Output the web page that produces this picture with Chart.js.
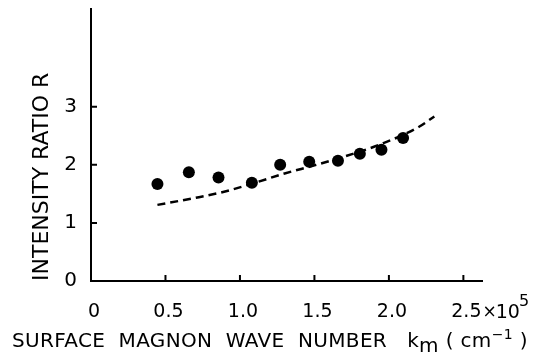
<!DOCTYPE html>
<html>
<head>
<meta charset="utf-8">
<script src="https://cdn.jsdelivr.net/npm/chart.js@4"></script>
<style>
  html, body { margin: 0; padding: 0; background: #ffffff; }
  #wrap { width: 539px; height: 354px; }
</style>
</head>
<body>
<div id="wrap"><canvas id="c" width="539" height="354"></canvas></div>
<script>
// ---- data ----
const measuredK = [0.446, 0.657, 0.856, 1.08, 1.27, 1.465, 1.658, 1.805, 1.95, 2.095];
const measuredR = [1.67, 1.87, 1.78, 1.69, 2.00, 2.05, 2.07, 2.19, 2.26, 2.46];
const theoryK = [0.446, 0.7, 0.9, 1.1, 1.3, 1.5, 1.7, 1.9, 2.1, 2.2, 2.305];
const theoryR = [1.31, 1.43, 1.54, 1.69, 1.85, 1.99, 2.14, 2.31, 2.52, 2.65, 2.83];
const xTickValues = [0, 0.5, 1.0, 1.5, 2.0, 2.5];
const xTickLabels = ['0', '0.5', '1.0', '1.5', '2.0', '2.5'];
const yTickValues = [0, 1, 2, 3];
const yTickLabels = ['0', '1', '2', '3'];
const xExponentText = ['×10', '5'];
const yTitle = 'INTENSITY RATIO R';
const xTitleParts = [
  { t: 'SURFACE  MAGNON  WAVE  NUMBER   k', s: 0 },
  { t: 'm', s: 1 },
  { t: ' ( cm', s: 0 },
  { t: '−1', s: 2 },
  { t: ' )', s: 0 }
];

const FONT = "'DejaVu Sans', sans-serif";

const toPts = (xs, ys) => xs.map((x, i) => ({ x: x, y: ys[i] }));

const decor = {
  id: 'decor',
  afterDraw(chart) {
    const ctx = chart.ctx;
    const xs = chart.scales.x, ys = chart.scales.y;
    const area = chart.chartArea;
    ctx.save();
    // inward tick marks
    ctx.strokeStyle = '#000';
    ctx.lineWidth = 2;
    ctx.beginPath();
    yTickValues.forEach(v => {
      if (v === 0) return;
      const py = ys.getPixelForValue(v);
      ctx.moveTo(area.left, py); ctx.lineTo(area.left + 6, py);
    });
    xTickValues.forEach(v => {
      if (v === 0) return;
      const px = xs.getPixelForValue(v);
      ctx.moveTo(px, area.bottom); ctx.lineTo(px, area.bottom - 6);
    });
    ctx.stroke();

    // exponent after the last x tick label
    ctx.fillStyle = '#000';
    ctx.textBaseline = 'alphabetic';
    ctx.textAlign = 'left';
    ctx.font = '19px ' + FONT;
    const lastV = xTickValues[xTickValues.length - 1];
    const lastL = xTickLabels[xTickLabels.length - 1];
    let ex = xs.getPixelForValue(lastV) + 3 + ctx.measureText(lastL).width / 2 + 1;
    const tickBase = 318;
    ctx.font = '17px ' + FONT;
    ctx.fillText(xExponentText[0].charAt(0), ex, tickBase - 1);
    ex += ctx.measureText(xExponentText[0].charAt(0)).width - 1;
    ctx.font = '19px ' + FONT;
    ctx.fillText(xExponentText[0].slice(1), ex, tickBase);
    ex += ctx.measureText(xExponentText[0].slice(1)).width;
    ctx.font = '16px ' + FONT;
    ctx.fillText(xExponentText[1], ex - 1, tickBase - 12);

    // x axis title
    const fontFor = s => (s === 2 ? '14px ' : '20px ') + FONT;
    const dyFor = s => (s === 1 ? 5 : (s === 2 ? -8 : 0));
    let natural = 0, nChars = 0;
    ctx.letterSpacing = '0px';
    xTitleParts.forEach(p => {
      ctx.font = fontFor(p.s);
      natural += ctx.measureText(p.t).width;
      nChars += p.t.length;
    });
    const targetW = 516;
    const ls = (targetW - natural) / nChars;
    ctx.letterSpacing = ls.toFixed(2) + 'px';
    let tx = 12;
    const base = 347;
    xTitleParts.forEach(p => {
      ctx.font = fontFor(p.s);
      ctx.fillText(p.t, tx, base + dyFor(p.s));
      tx += ctx.measureText(p.t).width;
    });
    ctx.letterSpacing = '0px';
    ctx.restore();
  }
};

new Chart(document.getElementById('c'), {
  type: 'scatter',
  data: {
    datasets: [
      {
        label: 'theory',
        data: toPts(theoryK, theoryR),
        showLine: true,
        borderColor: '#000',
        borderWidth: 2.5,
        borderDash: [8, 5],
        pointRadius: 0,
        tension: 0.3,
        cubicInterpolationMode: 'monotone',
        fill: false
      },
      {
        label: 'measured',
        data: toPts(measuredK, measuredR),
        showLine: false,
        pointRadius: 6,
        pointBackgroundColor: '#000',
        pointBorderColor: '#000',
        pointBorderWidth: 0
      }
    ]
  },
  options: {
    responsive: false,
    animation: false,
    devicePixelRatio: 1,
    layout: { padding: { top: 9, right: 57, bottom: 0, left: 0 } },
    plugins: { legend: { display: false }, tooltip: { enabled: false } },
    scales: {
      x: {
        type: 'linear',
        min: 0,
        max: 2.625,
        grid: { display: false, drawTicks: false },
        border: { display: true, color: '#000', width: 2 },
        afterBuildTicks: s => { s.ticks = xTickValues.map(v => ({ value: v })); },
        afterFit: s => { s.height = 73; s.paddingLeft = 0; s.paddingRight = 0; },
        ticks: {
          color: '#000',
          font: { family: FONT, size: 19 },
          padding: 20,
          labelOffset: 3,
          maxRotation: 0,
          autoSkip: false,
          callback: (v, i) => xTickLabels[i]
        }
      },
      y: {
        type: 'linear',
        min: 0,
        max: 4.68,
        grid: { display: false, drawTicks: false },
        border: { display: true, color: '#000', width: 2 },
        afterBuildTicks: s => { s.ticks = yTickValues.map(v => ({ value: v })); },
        afterFit: s => { s.width = 91; s.paddingTop = 0; s.paddingBottom = 0; },
        title: {
          display: true,
          text: yTitle,
          color: '#000',
          align: 'start',
          font: { family: FONT, size: 22 },
          padding: { top: 29, bottom: 0 }
        },
        ticks: {
          color: '#000',
          font: { family: FONT, size: 20 },
          padding: 14,
          autoSkip: false,
          callback: (v, i) => yTickLabels[i]
        }
      }
    }
  },
  plugins: [decor]
});
</script>
</body>
</html>
